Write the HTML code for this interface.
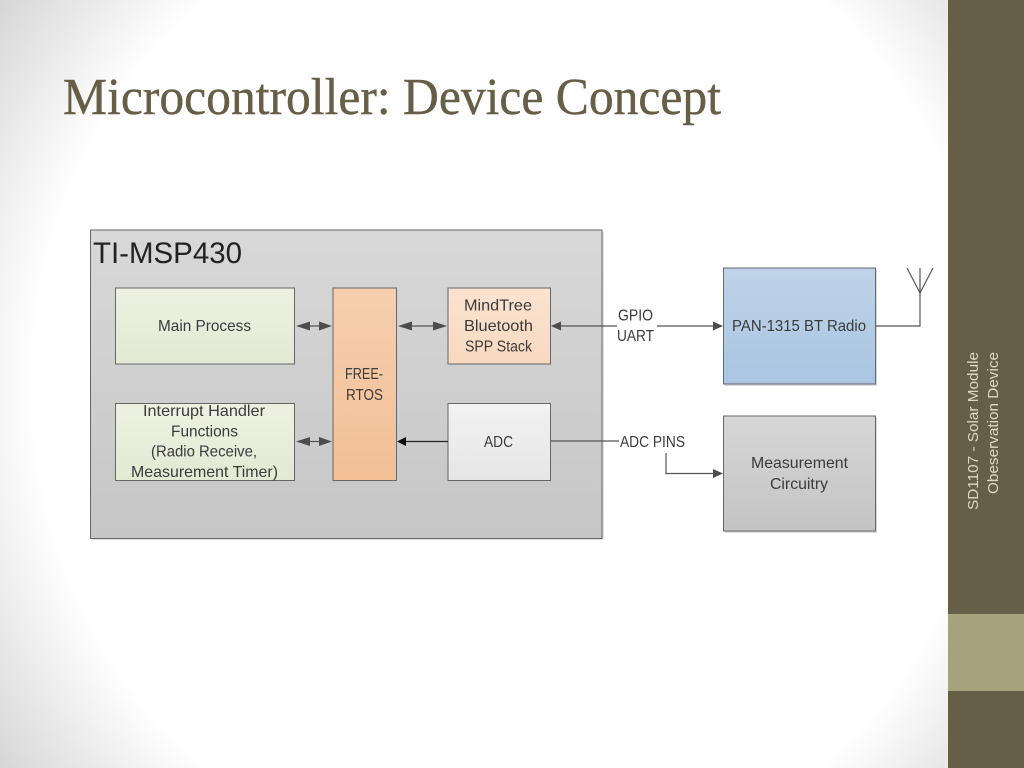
<!DOCTYPE html>
<html>
<head>
<meta charset="utf-8">
<style>
html,body{margin:0;padding:0;width:1024px;height:768px;overflow:hidden;background:#fff}
svg{display:block}
text{font-family:"Liberation Sans",sans-serif;fill:#3a3a3a}
</style>
</head>
<body>
<svg width="1024" height="768" viewBox="0 0 1024 768" xmlns="http://www.w3.org/2000/svg">
<defs>
<radialGradient id="bg" gradientUnits="userSpaceOnUse" cx="0" cy="0" r="1" gradientTransform="translate(512 384) scale(630 660)">
<stop offset="0" stop-color="#ffffff"/><stop offset="0.758" stop-color="#ffffff"/><stop offset="1" stop-color="#d6d6d6"/>
</radialGradient>
<linearGradient id="gBig" x1="0" y1="0" x2="0" y2="1"><stop offset="0" stop-color="#d8d8d8"/><stop offset="1" stop-color="#c6c6c6"/></linearGradient>
<linearGradient id="gGreen" x1="0" y1="0" x2="0" y2="1"><stop offset="0" stop-color="#eef1e2"/><stop offset="1" stop-color="#e3e9d3"/></linearGradient>
<linearGradient id="gOr1" x1="0" y1="0" x2="0" y2="1"><stop offset="0" stop-color="#f6cfae"/><stop offset="1" stop-color="#f2bf96"/></linearGradient>
<linearGradient id="gOr2" x1="0" y1="0" x2="0" y2="1"><stop offset="0" stop-color="#fae3d0"/><stop offset="1" stop-color="#f8d9bf"/></linearGradient>
<linearGradient id="gGr" x1="0" y1="0" x2="0" y2="1"><stop offset="0" stop-color="#f2f2f2"/><stop offset="1" stop-color="#e6e6e6"/></linearGradient>
<linearGradient id="gBlue" x1="0" y1="0" x2="0" y2="1"><stop offset="0" stop-color="#bfd3e8"/><stop offset="1" stop-color="#a9c5e1"/></linearGradient>
<linearGradient id="gMeas" x1="0" y1="0" x2="0" y2="1"><stop offset="0" stop-color="#d6d6d6"/><stop offset="1" stop-color="#c4c4c4"/></linearGradient>
<filter id="soft" x="-2%" y="-2%" width="104%" height="104%"><feGaussianBlur stdDeviation="0.35"/></filter>
</defs>

<rect width="1024" height="768" fill="url(#bg)"/>
<rect x="948" y="0" width="76" height="768" fill="#675e47"/>
<rect x="948" y="614" width="76" height="77" fill="#a5a27c"/>

<text x="63" y="114" font-size="52" textLength="658" lengthAdjust="spacingAndGlyphs" style="font-family:'Liberation Serif',serif;fill:#675e47;stroke:#675e47;stroke-width:0.4">Microcontroller: Device Concept</text>

<g filter="url(#soft)">
<rect x="92" y="232" width="512" height="308" fill="#000" opacity="0.12"/>
<rect x="90.5" y="230" width="511.5" height="308.5" fill="url(#gBig)" stroke="#666" stroke-width="1"/>
<text x="93" y="263" font-size="30" textLength="149" lengthAdjust="spacingAndGlyphs" style="fill:#222">TI-MSP430</text>

<g stroke="#666" stroke-width="1">
<rect x="115.5" y="288" width="179" height="76" fill="url(#gGreen)"/>
<rect x="115.5" y="403.5" width="179" height="77" fill="url(#gGreen)"/>
<rect x="333" y="288" width="63.5" height="192.5" fill="url(#gOr1)"/>
<rect x="448" y="288" width="102.5" height="76" fill="url(#gOr2)"/>
<rect x="448" y="403.5" width="102.5" height="77" fill="url(#gGr)"/>
</g>
<rect x="725" y="270" width="152" height="116" fill="#000" opacity="0.15"/>
<rect x="725" y="418" width="152" height="115" fill="#000" opacity="0.15"/>
<rect x="723.5" y="268" width="152" height="116" fill="url(#gBlue)" stroke="#667" stroke-width="1"/>
<rect x="723.5" y="416" width="152" height="115" fill="url(#gMeas)" stroke="#666" stroke-width="1"/>

<g stroke="#555" stroke-width="1.2" fill="none">
<path d="M300 326H328"/>
<path d="M402 326H443"/>
<path d="M300 441.500H328"/>
<path d="M556 326H617"/>
<path d="M657 326H717"/>
<path d="M551 441H619"/>
<path d="M666 453V473.500H717"/>
<path d="M876 326H920V268M920 293L907 268M920 293L933 268"/>
</g>
<path d="M402 441.500H448" stroke="#222" stroke-width="1.2" fill="none"/>

<g fill="#4d4d4d">
<path d="M296 326l14-4.500v9z"/><path d="M332 326l-13-4.500v9z"/>
<path d="M398 326l14-4.500v9z"/><path d="M447 326l-14-4.500v9z"/>
<path d="M296 441.500l14-4.500v9z"/><path d="M332 441.500l-13-4.500v9z"/>
<path d="M551 326l10-4.500v9z"/>
<path d="M723 326l-10-4.500v9z"/>
<path d="M723 473.500l-10-4.500v9z"/>
</g>
<path d="M397 441.500l9-4.500v9z" fill="#111"/>

<g font-size="16">
<text x="158" y="331" textLength="93" lengthAdjust="spacingAndGlyphs">Main Process</text>
<text x="464" y="310.500" textLength="68" lengthAdjust="spacingAndGlyphs">MindTree</text>
<text x="464" y="331" textLength="69" lengthAdjust="spacingAndGlyphs">Bluetooth</text>
<text x="465" y="351.500" textLength="67" lengthAdjust="spacingAndGlyphs">SPP Stack</text>
<text x="345" y="379" textLength="38" lengthAdjust="spacingAndGlyphs">FREE-</text>
<text x="346" y="400" textLength="37" lengthAdjust="spacingAndGlyphs">RTOS</text>
<text x="143" y="416" textLength="122" lengthAdjust="spacingAndGlyphs">Interrupt Handler</text>
<text x="171" y="436.500" textLength="67" lengthAdjust="spacingAndGlyphs">Functions</text>
<text x="151" y="456.500" textLength="106" lengthAdjust="spacingAndGlyphs">(Radio Receive,</text>
<text x="131" y="477" textLength="147" lengthAdjust="spacingAndGlyphs">Measurement Timer)</text>
<text x="484" y="447" textLength="29" lengthAdjust="spacingAndGlyphs">ADC</text>
<text x="618" y="320.500" textLength="35" lengthAdjust="spacingAndGlyphs">GPIO</text>
<text x="617" y="341" textLength="37" lengthAdjust="spacingAndGlyphs">UART</text>
<text x="732" y="331" textLength="134" lengthAdjust="spacingAndGlyphs">PAN-1315 BT Radio</text>
<text x="620" y="447" textLength="65" lengthAdjust="spacingAndGlyphs">ADC PINS</text>
<text x="751" y="468" textLength="97" lengthAdjust="spacingAndGlyphs">Measurement</text>
<text x="770" y="489" textLength="58" lengthAdjust="spacingAndGlyphs">Circuitry</text>
</g>

<text transform="translate(978 510) rotate(-90)" font-size="15" textLength="158" lengthAdjust="spacingAndGlyphs" style="fill:#dcd9c2">SD1107 - Solar Module</text>
<text transform="translate(998 494) rotate(-90)" font-size="15" textLength="142" lengthAdjust="spacingAndGlyphs" style="fill:#dcd9c2">Obeservation Device</text>
</g>
</svg>
</body>
</html>
